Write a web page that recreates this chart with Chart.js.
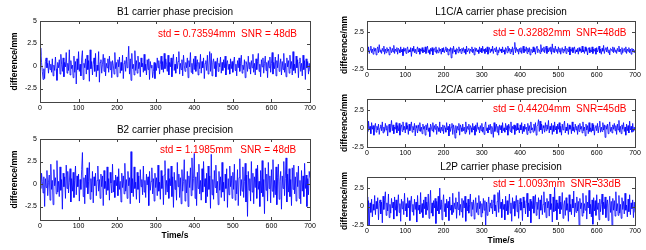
<!DOCTYPE html>
<html>
<head>
<meta charset="utf-8">
<script src="https://cdn.jsdelivr.net/npm/chart.js@4/dist/chart.umd.min.js"></script>
<style>
  body { margin: 0; background: #fff; }
  #wrap { position: relative; width: 646px; height: 250px; overflow: hidden; }
  canvas { position: absolute; }
</style>
</head>
<body>
<div id="wrap">
  <canvas id="b1"></canvas>
  <canvas id="b2"></canvas>
  <canvas id="l1"></canvas>
  <canvas id="l2"></canvas>
  <canvas id="l2p"></canvas>
</div>
<script>
// time axis: 0..700 s, one sample every 2 s
const timeSpan = 700;
const xTicks = [0, 100, 200, 300, 400, 500, 600, 700];
const yTicksLeft = [-2.5, 0, 2.5, 5];
const yTicksRight = [-2.5, 0, 2.5];

// B1 carrier phase difference (mm)
const b1Values = [
  1.2, 2.0, 0.4, -0.6, -1.5, -0.3, -1.4, 0.5, 0.9, -0.2, 0.3, -0.8, 0.6, -0.4, 0.2, -0.7, 0.8, -1.1, 0.1, -0.5, 1.0, -0.3, -1.6, 0.4, -0.2,
  0.7, -0.9, 1.3, 0.2, -0.6, 0.9, -1.2, 0.4, -0.1, 1.5, -0.8, 0.3, -0.5, 1.8, -1.0, 0.6, -0.3, 0.1, -1.3, 1.1, -0.7, 0.5, -2.0, 0.8, -0.4,
  1.6, -0.6, 0.2, -1.1, 0.9, 1.7, -1.5, 0.3, -0.2, 0.8, -0.9, 1.2, -0.4, 0.6, -1.7, 1.8, -0.3, 0.5, -1.0, 0.2, 0.9, -0.6, 1.4, -1.2, 0.1,
  -0.5, 1.6, -1.8, 0.4, 0.7, -0.8, 0.2, 1.3, -0.6, 0.9, -1.1, 0.3, -0.2, 0.8, -0.7, 1.1, -0.4, 0.5, -1.3, 0.6, 0.1, -0.9, 1.5, -0.3, 0.4,
  -1.2, 0.7, -0.1, 1.0, -0.8, 0.4, -0.5, 1.2, -1.4, 0.3, 0.6, -0.6, 1.0, -0.2, 0.5, 2.2, -0.9, 0.8, -1.6, 1.4, -0.3, 0.2, -1.0, 1.7, -0.5,
  0.6, -0.8, 1.1, -0.3, 0.4, -1.2, 0.9, -0.1, 0.3, -0.7, 1.3, -0.5, 0.2, -1.0, 0.7, -0.4, 0.8, -1.5, 0.5, -0.2, 0.1, -1.3, -0.6, 0.4, -1.4,
  0.3, -0.5, 0.9, -0.2, 0.6, -0.9, 0.2, 1.1, -0.4, 0.5, -0.7, 1.4, -0.3, 0.8, 0.2, -0.6, 1.2, -1.0, 0.4, -0.1, 0.9, -1.2, 0.6, 1.3, -0.5,
  0.2, -0.8, 1.0, -0.3, 0.5, 1.6, -0.9, 0.3, -0.4, 0.7, -1.1, 1.2, 0.1, -0.6, 0.4, -0.2, 0.9, -1.3, 0.6, -0.1, 1.5, -0.7, 0.3, -0.9, 0.8,
  -0.4, 1.1, -0.6, 0.2, 0.7, -1.0, 0.4, -0.3, 1.3, -0.8, 0.5, -0.2, 0.9, -1.4, 0.3, 0.6, -0.5, 1.2, -0.9, 0.1, 1.6, -0.6, 1.4, -1.1, 0.4,
  0.8, -0.3, 0.5, -1.2, 0.2, 0.9, -0.6, 0.3, -0.1, 1.0, -0.8, 0.4, -0.5, 0.7, -0.2, 1.1, -1.0, 0.3, 0.6, -0.4, 0.2, -0.9, 0.8, -0.3, 0.5,
  -0.7, 0.4, 1.0, -0.5, 0.2, -1.1, 0.6, -0.2, 0.9, -0.6, 0.3, 1.2, -0.8, 0.1, -0.4, 0.7, -1.3, 0.5, 0.2, -0.6, 1.1, -0.3, 0.4, -0.9, 0.6,
  -0.2, 1.3, -0.7, 0.3, -1.0, 0.8, -0.4, 0.5, 1.4, -0.6, 0.2, -1.2, 0.7, -0.1, 0.9, -0.8, 0.3, 1.1, -0.5, 0.4, -1.3, 0.6, -0.2, 1.0, -0.7,
  0.3, 1.5, -0.9, 0.4, -0.3, 1.0, -1.1, 0.6, -0.2, 1.3, -0.6, 0.2, 0.8, -1.0, 0.5, -0.4, 1.4, -0.7, 0.3, -1.2, 0.9, -0.1, 0.6, -0.8, 1.2,
  -0.3, 0.5, -1.0, 1.6, -0.5, 0.2, -0.8, 1.1, -0.2, 0.7, -1.3, 0.4, 0.9, -0.6, 0.3, -1.1, 1.2, -0.4, 0.6, -1.5, 0.8, -0.2, 0.5, -0.9, 0.3,
  -0.6
];

// B2 carrier phase difference (mm)
const b2Values = [
  0.9, -0.5, 1.2, 0.3, -1.0, 0.8, -2.5, 0.6, -0.4, 1.5, -1.3, 0.2, 1.0, -1.8, 2.2, -0.6, 0.4, -2.3, 1.6, -0.2, 0.7, -1.1, 2.6, -0.9, 0.3,
  -1.4, 1.9, -0.7, 0.5, -2.8, 1.2, -0.3, 0.8, -1.6, 2.1, -0.5, 1.4, -1.0, 0.2, 1.7, -2.0, 0.6, -0.8, 1.3, -1.5, 0.4, 2.0, -1.2, 0.9, -0.3,
  1.1, -1.9, 0.5, -0.6, 1.6, 3.5, -1.4, 0.7, -2.2, 1.0, -0.4, 1.8, -1.1, 0.3, 2.4, -1.7, 0.6, -0.9, 1.4, -2.1, 0.8, -0.2, 1.2, -1.3, 0.4,
  2.0, -0.8, 0.5, -1.6, 1.1, -0.3, 0.9, -2.4, 1.5, -0.5, 0.3, -1.2, 1.9, -0.7, 0.6, -1.8, 1.3, 0.1, -1.0, 2.2, -0.9, 0.4, -1.5, 1.0, -0.2,
  0.8, -1.3, 1.7, -0.6, 0.3, -2.0, 1.2, -0.4, 0.9, -1.1, 2.3, -0.8, 0.5, -1.6, 1.4, -0.2, 0.7, -2.2, 3.6, -1.0, 0.6, -1.4, 1.9, -0.5, 0.2,
  -1.7, 1.3, -0.6, 0.9, -2.1, 1.6, -0.3, 0.5, -1.2, 2.0, -0.9, 0.4, -1.5, 1.1, -0.1, 0.8, -2.4, 1.4, -0.7, 0.3, 1.8, -1.1, 0.6, -1.9, 1.2,
  -0.4, 0.7, -1.3, 2.1, -0.8, 0.2, -1.7, 1.5, -0.5, 0.9, -2.3, 1.0, 2.6, -1.2, 0.4, -0.9, 1.7, -1.6, 0.6, -0.2, 2.0, -1.4, 0.8, -2.6, 1.3,
  -0.6, 0.4, -1.8, 2.4, -0.3, 1.1, -1.5, 0.7, -2.2, 1.6, -0.8, 0.3, 2.7, -1.9, 0.5, -1.0, 1.4, -2.5, 0.9, -0.4, 1.8, -1.3, 2.9, -0.7, 0.6,
  3.4, -1.6, 0.8, -2.4, 1.3, -0.5, 2.2, -1.1, 0.4, -1.8, 1.7, -0.9, 2.5, -0.3, 0.6, -2.1, 1.2, -1.4, 2.0, -0.6, 0.9, -2.7, 3.3, -1.2, 0.5,
  -1.7, 1.5, -0.4, 2.1, -1.0, 0.3, -2.3, 1.4, -0.7, 0.8, -1.5, 2.4, -0.9, 0.2, -1.9, 1.1, -0.5, 1.7, -2.6, 0.6, -1.2, 2.0, -0.3, 0.9, -1.6,
  1.3, -0.6, 2.2, -1.8, 0.4, -1.1, 1.6, -2.4, 0.7, 2.8, -1.3, 0.5, -0.8, 1.9, -1.5, 0.3, 2.3, -2.0, 1.0, -3.6, 1.4, -0.7, 0.6, -1.9, 2.5,
  -0.9, 1.2, -2.2, 0.8, -0.4, 1.7, -1.6, 2.1, -0.6, 0.3, -2.5, 1.5, -1.0, 2.6, -1.4, 0.5, -3.3, 1.8, -0.7, 1.1, -1.9, 2.4, -0.5, 0.9, -2.1,
  1.6, -0.8, 2.7, -1.5, 0.4, -1.2, 1.9, -2.3, 0.7, 2.2, -1.7, 0.3, 1.4, -2.8, 0.9, -0.5, 2.5, -1.3, 0.6, 2.9, -2.0, 1.1, -0.9, 1.7, -1.4,
  0.5, -2.4, 1.8, -0.6, 2.1, -1.1, 0.8, -1.9, 1.3, -0.3, 2.0, -1.6, 0.4, -2.2, 1.5, -0.8, 0.9, -1.4, 2.3, -0.5, 1.0, -2.5, 0.6, -1.2, 1.4,
  0.7
];

// L1C/A carrier phase difference (mm)
const l1Values = [
  0.3, -0.2, 0.5, -0.4, 0.1, 0.6, -0.3, 0.2, -0.5, 0.4, -0.1, 0.3, -0.6, 0.2, 0.5, -0.3, 0.8, -0.2, 0.1, -0.4, 0.3, -0.1, 0.6, -0.5, 0.2,
  -0.3, 0.4, -0.1, 0.2, -0.6, 0.5, 0.1, -0.3, 0.3, -0.2, 0.7, -0.4, 0.2, -0.1, 0.4, -0.5, 0.3, 0.1, -0.3, 0.5, -0.2, 0.2, -0.7, 0.4, -0.1,
  0.3, -0.4, 0.2, 0.5, -0.3, 0.1, -0.2, 0.4, -0.8, 0.3, -0.1, 0.6, -0.3, 0.2, -0.4, 0.1, 0.5, -0.2, 0.3, -0.5, 0.2, -0.1, 0.4, -0.3, 0.1,
  -0.2, 0.5, -0.4, 0.2, 0.6, -0.3, 0.1, -0.5, 0.3, -0.1, 0.4, -0.6, 0.2, 0.3, -0.2, 0.5, -0.4, 0.1, -0.3, 0.4, -0.1, 0.2, -0.5, 0.3, -0.2,
  0.4, -0.3, 0.1, 0.5, -0.2, 0.3, -0.6, 0.2, -0.1, 0.4, -1.0, 0.3, -0.4, 0.6, -0.2, 0.1, -0.5, 0.3, 0.2, -0.3, 0.5, -0.1, 0.2, -0.4, 0.3,
  -0.1, 0.4, -0.3, 0.2, -0.5, 0.6, -0.2, 0.1, 0.3, -0.4, 0.2, -0.1, 0.5, -0.3, 0.2, -0.6, 0.4, -0.1, 0.3, -0.2, 0.1, -0.4, 0.5, -0.2, 0.3,
  -0.3, 0.6, -0.1, 0.2, -0.4, 0.3, -0.2, 0.5, -0.5, 0.1, 0.4, -0.3, 0.2, -0.1, 0.6, -0.4, 0.2, 0.3, -0.2, 0.5, -0.6, 0.1, -0.3, 0.4, -0.1,
  0.2, -0.3, 0.5, -0.2, 0.1, -0.5, 0.4, 0.2, -0.3, 0.6, -0.1, 0.3, -0.4, 0.2, -0.2, 0.5, -0.6, 0.3, 1.1, -0.3, 0.4, -0.1, 0.2, -0.5, 0.3,
  -0.2, 0.4, -0.4, 0.1, 0.6, -0.3, 0.2, -0.1, 0.5, -0.4, 0.3, -0.2, 0.4, -0.6, 0.2, 0.1, -0.3, 0.5, -0.2, 0.3, -0.5, 0.4, 0.6, -0.3, 0.2,
  0.1, -0.4, 0.8, -0.2, 0.3, -0.1, 0.5, -0.3, 0.2, 0.6, -0.4, 0.3, -0.2, 0.4, -0.1, 0.5, -0.5, 0.9, -0.2, 0.3, -0.3, 0.6, -0.1, 0.2, -0.4,
  0.5, -0.2, 0.3, -0.5, 0.1, 0.4, -0.3, 0.2, -0.1, 0.6, -0.4, 0.3, 0.1, -0.2, 0.5, -0.6, 0.2, -0.1, 0.4, -0.3, 0.2, 0.5, -0.4, 0.1, -0.2,
  0.3, -0.5, 0.4, -0.1, 0.2, -0.3, 0.6, -0.2, 0.1, -0.4, 0.5, -0.1, 0.3, -0.6, 0.2, 0.4, -0.3, 0.1, -0.2, 0.5, -0.4, 0.2, -0.1, 0.3, -0.5,
  0.4, -0.2, 0.1, 0.6, -0.3, 0.2, -0.5, 0.3, -0.1, 0.7, -0.4, 0.2, 0.4, -0.2, 0.5, -0.3, 0.1, -0.6, 0.3, 0.2, -0.1, 0.5, -0.3, 0.4, -0.2,
  0.1, -0.4, 0.3, -0.1, 0.6, -0.2, 0.2, -0.5, 0.4, -0.3, 0.1, 0.3, -0.2, 0.5, -0.4, 0.2, -0.1, 0.4, -0.3, 0.2, -0.5, 0.3, -0.1, 0.2, -0.3,
  0.1
];

// L2C/A carrier phase difference (mm)
const l2Values = [
  0.6, -0.4, 1.0, -0.2, 0.3, -0.7, 0.8, -0.1, 0.4, -0.9, 0.2, 0.7, -0.5, 0.3, -0.2, 0.6, -0.8, 0.1, 0.5, -0.3, 0.9, -0.6, 0.2, -0.4, 0.7,
  -0.2, 0.4, -1.0, 0.3, 0.6, -0.5, 0.1, 1.1, -0.3, 0.5, -0.7, 0.2, -0.1, 0.8, -0.6, 0.4, -0.3, 0.7, -0.9, 0.2, 0.5, -0.4, 0.9, -0.2, 0.3,
  -0.6, 0.8, -0.1, 0.4, -0.8, 0.6, -0.3, 0.2, 0.9, -0.5, 0.3, -0.2, 0.7, -1.0, 0.4, 0.1, -0.6, 0.5, -0.3, 0.8, -0.4, 0.2, -0.7, 0.6, -0.1,
  0.3, -0.9, 0.5, -0.2, 0.7, -0.4, 0.1, -1.1, 0.6, 0.2, -0.3, 0.8, -0.5, 0.4, -0.1, 0.6, -0.8, 0.3, 0.1, -0.4, 0.9, -0.6, 0.2, -0.3, 0.5,
  -0.7, 0.4, 0.1, -0.5, 0.8, -0.2, 0.3, -1.0, 0.6, -0.4, 0.2, 0.7, -0.8, 0.5, -0.1, -1.3, 0.4, -0.6, 0.3, -0.2, 0.7, -0.9, 0.5, 0.1, -0.4,
  0.6, -0.3, 0.2, -0.7, 0.9, -0.5, 0.3, -0.1, 0.6, -0.8, 0.4, 0.1, -0.5, 0.7, -0.2, 0.3, -0.9, 0.5, -0.4, 0.8, -0.1, 0.2, -0.6, 0.4, -0.3,
  0.7, -0.5, 0.2, -0.8, 0.4, 0.9, -0.3, 0.1, -0.6, 0.5, -0.2, 0.6, -0.7, 0.3, -0.1, -1.2, 0.8, -0.4, 0.2, 0.6, -0.5, 0.3, -0.9, 0.5, -0.2,
  0.4, -0.6, 0.8, -0.3, 0.1, -0.5, 0.7, -0.2, 0.4, -0.9, 0.6, 0.2, -0.4, 0.9, -0.6, 0.3, -0.1, 0.5, -0.8, 0.4, -0.3, 0.7, -0.2, 0.1, -0.6,
  0.5, -0.2, 0.8, -0.7, 0.3, -0.4, 0.6, -0.1, 0.2, -0.8, 0.7, -0.3, 0.4, -0.6, 0.9, -0.2, 0.1, -0.5, 0.6, -0.3, 0.8, -0.9, 0.3, 0.5, 1.2,
  -0.4, 1.0, -0.2, 0.6, -0.7, 0.4, 0.1, -0.5, 0.8, -0.3, 0.5, -0.1, 1.1, -0.6, 0.3, -0.2, 0.7, -0.8, 0.4, -0.4, 0.9, -0.2, 0.3, -0.7, 0.6,
  -0.1, 0.8, -0.5, 0.3, -0.9, 0.6, -0.2, 0.4, 1.0, -0.6, 0.2, -0.3, 0.7, -0.8, 0.5, -0.1, 0.4, -0.7, 0.9, -0.3, 0.2, -0.5, 0.6, -0.2, 0.3,
  -0.8, 0.5, -0.4, 0.7, -0.1, 0.3, -0.6, 0.9, -0.3, 0.2, -1.0, 0.6, -0.2, 0.4, -0.7, 0.8, -0.4, 0.1, -0.5, 0.7, -0.3, 0.5, -0.9, 0.2, 0.4,
  -0.3, 0.7, -0.6, 0.3, 1.0, -0.5, 0.2, -0.4, 0.8, -0.2, 0.5, -1.2, 0.4, -0.1, 0.6, -0.7, 0.3, 0.9, -0.4, 0.2, -0.6, 0.5, -0.1, 0.7, -0.3,
  0.4, -0.8, 0.6, -0.2, 1.1, -0.5, 0.3, -0.7, 0.5, -0.1, 0.8, -0.4, 0.2, -0.9, 0.6, -0.3, 0.4, -0.6, 1.0, -0.2, 0.3, -0.5, 0.7, -0.4, 0.2,
  -0.3
];

// L2P carrier phase difference (mm)
const l2pValues = [
  1.3, -2.6, 0.8, -2.7, 0.5, -0.8, 1.0, -1.4, 0.3, -0.5, 1.5, -1.1, 0.7, -0.3, 1.2, -1.8, 0.4, 0.9, -1.0, 0.6, -2.2, 1.4, -0.4, 0.8, 2.0,
  -1.2, 0.5, -0.6, 1.7, -1.5, 0.3, -0.9, 1.1, -0.2, 0.6, -1.7, 1.3, -0.5, 0.9, -1.3, 0.2, 1.6, -0.8, 0.4, -2.0, 1.0, -0.3, 0.7, -1.1, 1.8,
  -0.6, 0.4, -1.4, 1.2, -0.2, 0.8, -1.9, 0.5, 1.4, -0.7, 0.3, -1.2, 1.0, -0.4, 0.6, -2.1, 1.5, -0.5, 0.2, -1.0, 1.9, -0.8, 0.4, -1.5, 0.9,
  -0.3, 1.3, -1.1, 0.6, -0.5, 1.7, -1.6, 0.2, 2.2, -0.9, 0.5, -1.3, 0.8, -0.2, 1.1, -2.3, 0.7, -0.6, 1.4, -1.0, 2.5, -0.4, 0.9, -1.8, 0.3,
  1.6, -0.7, 0.4, -1.4, 1.0, -0.2, 0.7, -1.9, 1.3, -0.5, 0.2, -1.1, 1.8, -0.8, 0.5, -0.3, 1.2, -1.6, 0.6, -0.4, 2.0, -1.2, 0.3, -0.7, 1.1,
  -1.5, 0.8, -0.2, 1.4, -2.0, 0.5, -0.6, 1.0, -0.9, 0.3, 1.7, -1.3, 0.6, -0.4, 0.9, -1.7, 0.2, 1.2, -0.8, 0.5, -1.1, 1.5, -0.3, 0.7, -1.4,
  0.4, -0.9, 1.1, -0.5, 0.8, -2.6, 0.6, -1.2, 0.3, 1.3, -0.7, 0.5, -0.2, 0.9, -1.0, 0.4, 1.6, -0.6, 0.2, -1.4, 0.7, 1.9, -0.8, 2.2, -0.3,
  0.6, -1.5, 1.0, -0.4, 0.3, -1.8, 1.4, -0.6, 0.8, -1.1, 0.2, 1.7, -0.9, 0.5, -2.0, 1.2, -0.3, 0.7, -1.3, 0.4, 1.5, -0.7, 0.9, -1.6, 0.3,
  1.1, -0.5, 0.6, -1.9, 1.3, -0.2, 0.8, -1.0, 0.4, 1.8, -1.4, 0.5, -0.6, 1.0, -2.2, 0.7, -0.3, 1.4, -0.9, 0.2, 1.6, -1.2, 0.6, -0.4, 1.2,
  -1.7, 0.9, -0.5, 1.5, -1.1, 0.3, 2.0, -0.8, 0.6, -1.5, 1.1, -0.2, 0.7, -1.3, 1.7, -0.4, 0.4, -2.1, 1.3, -0.7, 2.6, -0.6, 0.9, -1.8, 0.5,
  -0.3, 1.4, -1.0, 0.6, -0.4, 1.9, -1.6, 0.2, 0.8, -1.2, 1.2, -0.5, 0.4, -2.0, 1.6, -0.7, 0.3, -1.1, 1.0, -0.2, 2.1, -1.4, 0.5, -0.8, 1.3,
  -0.6, 0.7, -2.6, 1.1, -0.3, 0.5, -1.3, 1.8, -0.9, 0.4, -0.5, 1.5, -1.7, 0.6, -0.2, 2.2, -1.0, 0.3, -1.4, 0.9, -2.4, 1.2, -0.6, 0.8, -1.2,
  1.6, -0.4, 0.5, -1.8, 1.0, -0.7, 0.3, 1.7, -1.1, 0.6, -0.3, 1.3, -1.5, 0.4, 0.9, -1.9, 0.2, 1.4, -0.8, 0.7, -2.6, 1.1, -0.5, 0.8, -1.3,
  2.0, -0.6, 0.4, -1.2, 1.5, -0.9, 0.3, -1.6, 1.2, -0.4, 0.7, -1.0, 1.8, -0.5, 0.2, -1.4, 1.0, -0.7, 1.6, -1.1, 0.5, -0.3, 0.9, -1.5, 0.6,
  -0.8
];

const FONT = '"Liberation Sans", Arial, sans-serif';

// each panel: canvas box (x0,y0,w,h) and plot area (l,t,r,b) in page px
const panels = [
  { id: 'b1', values: b1Values, title: 'B1 carrier phase precision', note: 'std = 0.73594mm  SNR = 48dB',
    box: [0, 0, 322, 120], area: [40, 21, 310, 102], ymin: -4, ymax: 5, yTicks: yTicksLeft,
    titleY: 12, noteX: 158, noteY: 34, yTitleX: 15, xTitle: null },
  { id: 'b2', values: b2Values, title: 'B2 carrier phase precision', note: 'std = 1.1985mm   SNR = 48dB',
    box: [0, 120, 322, 130], area: [40, 139, 310, 220], ymin: -4, ymax: 5, yTicks: yTicksLeft,
    titleY: 130, noteX: 160, noteY: 150, yTitleX: 15, xTitle: 236 },
  { id: 'l1', values: l1Values, title: 'L1C/A carrier phase precision', note: 'std = 0.32882mm  SNR=48dB',
    box: [322, 0, 324, 80], area: [367, 21, 635, 69], ymin: -2.5, ymax: 4, yTicks: yTicksRight,
    titleY: 12, noteX: 493, noteY: 33, yTitleX: 345, xTitle: null },
  { id: 'l2', values: l2Values, title: 'L2C/A carrier phase precision', note: 'std = 0.44204mm  SNR=45dB',
    box: [322, 80, 324, 80], area: [367, 99, 635, 147], ymin: -2.5, ymax: 4, yTicks: yTicksRight,
    titleY: 90, noteX: 493, noteY: 109, yTitleX: 345, xTitle: null },
  { id: 'l2p', values: l2pValues, title: 'L2P carrier phase precision', note: 'std = 1.0093mm  SNR=33dB',
    box: [322, 160, 324, 90], area: [367, 177, 635, 225], ymin: -2.5, ymax: 4, yTicks: yTicksRight,
    titleY: 167, noteX: 493, noteY: 184, yTitleX: 345, xTitle: 241 }
];

// box, inward ticks and texts in MATLAB style
const matlabAxes = {
  id: 'matlabAxes',
  afterDatasetsDraw(chart, args, p) {
    const ctx = chart.ctx, a = chart.chartArea;
    const xs = chart.scales.x, ys = chart.scales.y;
    const ox = p.box[0], oy = p.box[1];
    ctx.save();
    ctx.strokeStyle = '#444';
    ctx.lineWidth = 1;
    ctx.beginPath();
    xTicks.forEach(v => {
      const x = Math.round(xs.getPixelForValue(v)) + 0.5;
      ctx.moveTo(x, a.bottom); ctx.lineTo(x, a.bottom - 3);
      ctx.moveTo(x, a.top); ctx.lineTo(x, a.top + 3);
    });
    p.yTicks.forEach(v => {
      const y = Math.round(ys.getPixelForValue(v)) + 0.5;
      ctx.moveTo(a.left, y); ctx.lineTo(a.left + 3, y);
      ctx.moveTo(a.right, y); ctx.lineTo(a.right - 3, y);
    });
    ctx.stroke();
    ctx.strokeRect(Math.round(a.left) + 0.5, Math.round(a.top) + 0.5,
      Math.round(a.right - a.left), Math.round(a.bottom - a.top));

    ctx.textBaseline = 'middle';
    ctx.fillStyle = '#000';
    ctx.textAlign = 'center';
    ctx.font = '10px ' + FONT;
    ctx.fillText(p.title, (a.left + a.right) / 2, p.titleY - oy);
    ctx.font = 'bold 8.5px ' + FONT;
    if (p.xTitle) ctx.fillText('Time/s', (a.left + a.right) / 2, p.xTitle - oy);
    ctx.save();
    ctx.translate(p.yTitleX - ox, (a.top + a.bottom) / 2);
    ctx.rotate(-Math.PI / 2);
    ctx.fillText('difference/mm', 0, 0);
    ctx.restore();
    ctx.fillStyle = '#ff0000';
    ctx.textAlign = 'left';
    ctx.font = '10px ' + FONT;
    ctx.fillText(p.note, p.noteX - ox, p.noteY - oy);
    ctx.restore();
  }
};

panels.forEach(p => {
  const [x0, y0, w, h] = p.box;
  const [l, t, r, b] = p.area;
  const canvas = document.getElementById(p.id);
  canvas.width = w; canvas.height = h;
  canvas.style.left = x0 + 'px'; canvas.style.top = y0 + 'px';
  const n = p.values.length;
  const points = p.values.map((v, i) => ({ x: i * timeSpan / (n - 1), y: v }));

  new Chart(canvas, {
    type: 'line',
    data: { datasets: [{ data: points, borderColor: '#0000ff', borderWidth: 0.8, pointRadius: 0, tension: 0 }] },
    options: {
      responsive: false,
      animation: false,
      devicePixelRatio: 1,
      layout: { padding: { left: 0, top: t - y0, right: x0 + w - r, bottom: 0 } },
      plugins: { legend: { display: false }, tooltip: { enabled: false }, matlabAxes: p },
      scales: {
        x: {
          type: 'linear', min: 0, max: 700,
          grid: { display: false, drawTicks: false, tickLength: 0 }, border: { display: false },
          afterBuildTicks: s => { s.ticks = xTicks.map(v => ({ value: v })); },
          afterFit: s => { s.height = y0 + h - b; },
          ticks: { color: '#000', font: { family: FONT, size: 7 }, padding: 2, maxRotation: 0, autoSkip: false }
        },
        y: {
          min: p.ymin, max: p.ymax,
          grid: { display: false, drawTicks: false, tickLength: 0 }, border: { display: false },
          afterBuildTicks: s => { s.ticks = p.yTicks.map(v => ({ value: v })); },
          afterFit: s => { s.width = l - x0; },
          ticks: { color: '#000', font: { family: FONT, size: 7 }, padding: 3, autoSkip: false }
        }
      }
    },
    plugins: [matlabAxes]
  });
});
</script>
</body>
</html>
